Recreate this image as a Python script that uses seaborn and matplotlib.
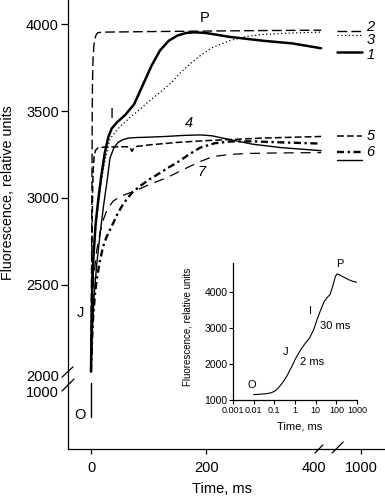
import matplotlib

matplotlib.use("Agg")
import matplotlib.pyplot as plt
import numpy as np
import seaborn as sns
from matplotlib.ticker import NullLocator
from matplotlib.transforms import ScaledTranslation

# main panel, time in ms, fluorescence in relative units
t1 = [0, 1, 2, 4, 8, 13, 18, 24, 30, 36, 45, 60, 75, 90, 105, 120, 135, 150, 165, 180, 200, 240, 300, 350, 400]
f1 = [2000, 2250, 2450, 2650, 2850, 3000, 3130, 3260, 3350, 3400, 3435, 3480, 3540, 3650, 3760, 3850, 3905, 3935, 3950, 3954, 3950, 3928, 3905, 3890, 3862]

t2 = [0, 0.8, 1.5, 2, 2.5, 3.5, 5, 7, 9, 12, 20, 50, 100, 200, 300, 400]
f2 = [2000, 2500, 3000, 3400, 3650, 3800, 3880, 3920, 3940, 3952, 3955, 3956, 3958, 3961, 3964, 3966]

t3 = [0, 1, 2, 4, 8, 13, 18, 25, 33, 50, 70, 85, 100, 120, 140, 155, 175, 190, 210, 240, 270, 300, 350, 400]
f3 = [2000, 2230, 2420, 2620, 2820, 2970, 3100, 3230, 3340, 3410, 3470, 3510, 3555, 3608, 3665, 3720, 3780, 3820, 3865, 3905, 3930, 3942, 3950, 3955]

t4 = [0, 2, 5, 10, 16, 22, 28, 33, 40, 47, 55, 65, 80, 100, 130, 160, 190, 210, 240, 280, 330, 400]
f4 = [2000, 2200, 2420, 2620, 2800, 2960, 3100, 3230, 3290, 3320, 3335, 3345, 3348, 3350, 3354, 3360, 3363, 3358, 3337, 3310, 3290, 3272]

t5 = [0, 1, 2, 3, 4, 5.5, 8, 12, 20, 40, 60, 68, 71, 74, 80, 100, 150, 200, 300, 400]
f5 = [2000, 2450, 2850, 3080, 3180, 3240, 3275, 3288, 3292, 3294, 3295, 3292, 3268, 3285, 3297, 3305, 3320, 3330, 3345, 3354]

t6 = [0, 2, 4, 7, 10, 15, 21, 27, 33, 40, 47, 56, 65, 73, 88, 103, 118, 132, 145, 155, 170, 190, 215, 242, 280, 330, 400]
f6 = [2000, 2200, 2330, 2450, 2530, 2630, 2720, 2775, 2817, 2865, 2915, 2965, 3005, 3036, 3075, 3110, 3140, 3170, 3195, 3215, 3250, 3290, 3315, 3325, 3326, 3320, 3313]

t7 = [0, 2, 5, 10, 16, 22, 28, 38, 50, 73, 100, 132, 160, 190, 212, 240, 271, 320, 400]
f7 = [2000, 2300, 2550, 2700, 2806, 2880, 2933, 2980, 3008, 3036, 3075, 3117, 3163, 3210, 3238, 3250, 3256, 3259, 3261]

# O level drawn below the axis break
o_time = [0, 0]
o_fluo = [520, 1300]

# key samples at the right: curve, level, label
key_curves = ["2", "3", "1", "5", "6", "4"]
key_levels = [3960, 3937, 3838, 3354, 3267, 3221]
key_labels = ["2", "3", "1", "5", "6", ""]
key_label_levels = [3983, 3908, 3821, 3354, 3267, 0]

# inset, log time
inset_t = [0.01, 0.02, 0.04, 0.07, 0.1, 0.15, 0.25, 0.4, 0.7, 1, 1.5, 2, 3, 5, 8, 12, 18, 25, 35, 50, 70, 90, 110, 130, 170, 250, 400, 600, 1000]
inset_f = [1150, 1160, 1175, 1200, 1240, 1320, 1480, 1660, 1930, 2120, 2300, 2420, 2560, 2720, 2950, 3250, 3520, 3720, 3840, 3930, 4200, 4430, 4500, 4490, 4450, 4400, 4340, 4300, 4270]
inset_ticks = [0.001, 0.01, 0.1, 1, 10, 100, 1000]
inset_ticklabels = ["0.001", "0.01", "0.1", "1", "10", "100", "1000"]

curves = {"1": (t1, f1), "2": (t2, f2), "3": (t3, f3), "4": (t4, f4), "5": (t5, f5), "6": (t6, f6), "7": (t7, f7)}
styles = {
    "1": dict(linewidth=1.8, linestyle="-"),
    "2": dict(linewidth=1.0, linestyle=(0, (7, 3))),
    "3": dict(linewidth=0.9, linestyle=(0, (1, 2))),
    "4": dict(linewidth=1.0, linestyle="-"),
    "5": dict(linewidth=1.1, linestyle=(0, (4.5, 2))),
    "6": dict(linewidth=1.7, linestyle=(0, (3, 1.5, 1, 1.5))),
    "7": dict(linewidth=0.9, linestyle=(0, (8, 5.5))),
}

# broken axes as piecewise linear scales
C1, C2, K = 0.094, 0.352, 0.116
Y_LO = 2000 - 1000 * C1


def y_fwd(y):
    y = np.asarray(y, dtype=float)
    return np.where(y >= 2000, y, np.where(y >= 1000, 2000 - (2000 - y) * C1, Y_LO - (1000 - y) * C2))


def y_inv(t):
    t = np.asarray(t, dtype=float)
    return np.where(t >= 2000, t, np.where(t >= Y_LO, 2000 - (2000 - t) / C1, 1000 - (Y_LO - t) / C2))


def x_fwd(x):
    x = np.asarray(x, dtype=float)
    return np.where(x <= 400, x, 400 + (x - 400) * K)


def x_inv(t):
    t = np.asarray(t, dtype=float)
    return np.where(t <= 400, t, 400 + (t - 400) / K)


sns.set_theme(style="ticks", rc={
    "axes.edgecolor": "black", "text.color": "black", "axes.labelcolor": "black",
    "xtick.color": "black", "ytick.color": "black", "axes.linewidth": 0.9,
})
plt.rcParams["font.family"] = ["Liberation Sans", "DejaVu Sans"]

fig = plt.figure(figsize=(3.85, 4.99), dpi=100)
ax = fig.add_axes([68 / 385, 50 / 499, 317 / 385, 449 / 499])
ax.set_xscale("function", functions=(x_fwd, x_inv))
ax.set_yscale("function", functions=(y_fwd, y_inv))

for name, (t, f) in curves.items():
    sns.lineplot(x=t, y=f, ax=ax, color="black", estimator=None, sort=False, legend=False, **styles[name])
ax.plot(o_time, o_fluo, color="black", linewidth=1.0)

for name, lvl, lab, lab_lvl in zip(key_curves, key_levels, key_labels, key_label_levels):
    ax.plot([640, 1015], [lvl, lvl], color="black", **styles[name])
    if lab:
        ax.text(1080, lab_lvl, lab, fontsize=10.5, style="italic", ha="left", va="center")

for s, x, y, it in [("I", 36, 3481, False), ("P", 198, 4035, False), ("J", -19, 2338, False),
                    ("O", -19, 557, False), ("4", 170, 3429, True), ("7", 193, 3152, True)]:
    ax.text(x, y, s, fontsize=10.5, ha="center", va="center", style="italic" if it else "normal")

ax.set_xlim(-40, 1357)
ax.set_ylim(0, 4140)
ax.set_xticks([0, 200, 400, 1000])
ax.set_yticks([1000, 2000, 2500, 3000, 3500, 4000])
ax.tick_params(axis="y", length=5, width=0.9, pad=1.5, labelsize=10.5)
ax.tick_params(axis="x", length=3.6, width=0.9, pad=5, labelsize=10.5)
ax.xaxis.set_minor_locator(NullLocator())
ax.yaxis.set_minor_locator(NullLocator())
yt = ax.yaxis.get_major_ticks()
for tk in yt[:2]:
    tk.tick1line.set_visible(False)
    tk.label1.set_transform(tk.label1.get_transform() + ScaledTranslation(0, -0.04, fig.dpi_scale_trans))
xt = ax.xaxis.get_major_ticks()[2]
xt.tick1line.set_visible(False)
xt.label1.set_transform(xt.label1.get_transform() + ScaledTranslation(-0.07, 0, fig.dpi_scale_trans))
sns.despine(ax=ax)

ax.set_ylabel("Fluorescence, relative units", fontsize=10.3)
ax.yaxis.set_label_coords(-0.166, 0.572)
ax.set_xlabel("Time, ms", fontsize=10.5)
ax.xaxis.set_label_coords(0.486, -0.074)

# break marks
brk = dict(color="black", linewidth=0.9, transform=ax.transAxes, clip_on=False)
ax.plot([0.798, 0.845], [0, 0], color="white", linewidth=2.5, transform=ax.transAxes, clip_on=False)
ax.plot([0.779, 0.804], [-0.009, 0.009], **brk)
ax.plot([0.833, 0.868], [-0.009, 0.0156], **brk)
ax.plot([-0.019, 0.016], [0.160, 0.183], **brk)
ax.plot([-0.019, 0.019], [0.129, 0.156], **brk)

# inset
axin = fig.add_axes([233 / 385, 99 / 499, 124 / 385, 137 / 499])
axin.set_facecolor("none")
sns.lineplot(x=inset_t, y=inset_f, ax=axin, color="black", linewidth=0.8, estimator=None, sort=False, legend=False)
axin.set_xscale("log")
axin.set_xlim(0.001, 1000)
axin.set_ylim(1000, 4805)
axin.set_xticks(inset_ticks, inset_ticklabels)
axin.set_yticks([1000, 2000, 3000, 4000])
axin.xaxis.set_minor_locator(NullLocator())
axin.tick_params(axis="both", length=3, width=0.8, pad=1)
axin.tick_params(axis="x", labelsize=6.5)
axin.tick_params(axis="y", labelsize=7.5)
sns.despine(ax=axin)
axin.set_ylabel("Fluorescence, relative units", fontsize=7)
axin.yaxis.set_label_coords(-0.33, 0.533)
axin.set_xlabel("Time, ms", fontsize=8)
axin.xaxis.set_label_coords(0.54, -0.16)

for s, x, y, ha in [("O", 0.0083, 1417, "center"), ("J", 0.365, 2333, "center"), ("2 ms", 1.73, 2055, "left"),
                    ("I", 5.86, 3472, "center"), ("30 ms", 15.96, 3055, "left"), ("P", 147, 4778, "center")]:
    axin.text(x, y, s, fontsize=8, ha=ha, va="center", clip_on=False)

fig.savefig("out.png", dpi=100)
